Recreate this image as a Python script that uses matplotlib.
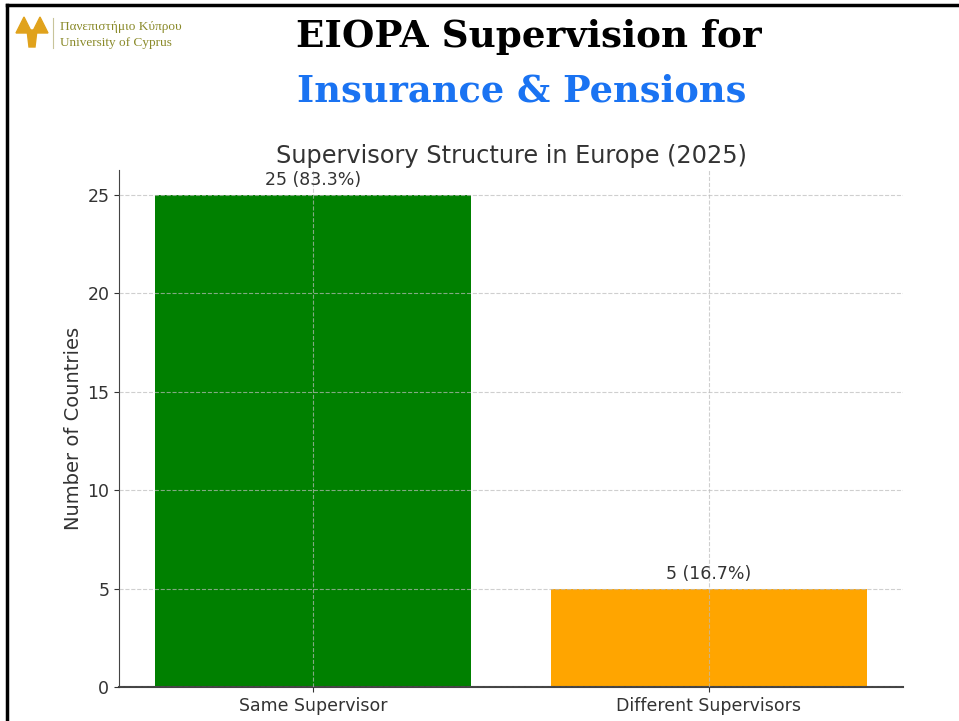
import matplotlib
matplotlib.use('Agg')
import matplotlib.pyplot as plt
from matplotlib.lines import Line2D
from matplotlib.patches import Polygon

categories = ['Same Supervisor', 'Different Supervisors']
counts = [25, 5]
bar_colors = ['green', 'orange']
total = sum(counts)

W, H = 959, 721
fig = plt.figure(figsize=(W / 100, H / 100), dpi=100)
fig.patch.set_facecolor('white')


def px(x, y):
    # figure pixel (from top-left) -> figure fraction
    return x / W, 1 - y / H


# slide frame
fig.add_artist(Line2D([px(7, 0)[0], 1], [px(0, 5)[1]] * 2, color='black', lw=2.5))
fig.add_artist(Line2D([px(7, 0)[0]] * 2, [px(0, 5)[1], 0], color='black', lw=2.5))

# slide heading
fig.text(*px(529, 37), 'EIOPA Supervision for', ha='center', va='center',
         fontsize=26.8, fontweight='bold', family='DejaVu Serif', color='black')
fig.text(*px(522, 92), 'Insurance & Pensions', ha='center', va='center',
         fontsize=26.5, fontweight='bold', family='DejaVu Serif', color='#1a73f2')

# university logo
gold = '#e0a21c'
for cx in (24, 40):
    pts = [px(cx - 8, 33), px(cx, 17), px(cx + 8, 33)]
    fig.add_artist(Polygon(pts, closed=True, color=gold, transform=fig.transFigure))
fig.add_artist(Polygon([px(27, 30), px(37, 30), px(35, 47), px(29, 47)], closed=True,
                       color=gold, transform=fig.transFigure))
fig.add_artist(Line2D([px(53, 0)[0]] * 2, [px(0, 18)[1], px(0, 48)[1]], color='#c8c49a', lw=0.8))
fig.text(*px(60, 27), 'Πανεπιστήμιο Κύπρου', ha='left', va='center',
         fontsize=9.5, family='Liberation Serif', color='#8a8a2a')
fig.text(*px(60, 43), 'University of Cyprus', ha='left', va='center',
         fontsize=9.5, family='Liberation Serif', color='#8a8a2a')

# chart
x0, x1, y0, y1 = 119, 903, 170, 687
ax = fig.add_axes([x0 / W, 1 - y1 / H, (x1 - x0) / W, (y1 - y0) / H])
bars = ax.bar(categories, counts, color=bar_colors, width=0.8)
for b, c in zip(bars, counts):
    ax.text(b.get_x() + b.get_width() / 2, c + 0.3, f'{c} ({c / total * 100:.1f}%)',
            ha='center', va='bottom', fontsize=12.5, color='#333333')

ax.set_ylim(0, 26.25)
ax.set_yticks([0, 5, 10, 15, 20, 25])
ax.set_title('Supervisory Structure in Europe (2025)', fontsize=17.3, color='#333333', pad=5)
ax.set_ylabel('Number of Countries', fontsize=14, color='#333333', labelpad=3)
ax.tick_params(labelsize=12.5, colors='#333333')
ax.grid(True, linestyle='--', color='#bbbbbb', alpha=0.7, lw=0.8)
ax.set_axisbelow(False)
ax.spines['top'].set_visible(False)
ax.spines['right'].set_visible(False)
ax.spines['left'].set_color('#444444')
ax.spines['bottom'].set_color('#444444')
ax.spines['bottom'].set_linewidth(1.5)

fig.savefig('out.png', dpi=100)
